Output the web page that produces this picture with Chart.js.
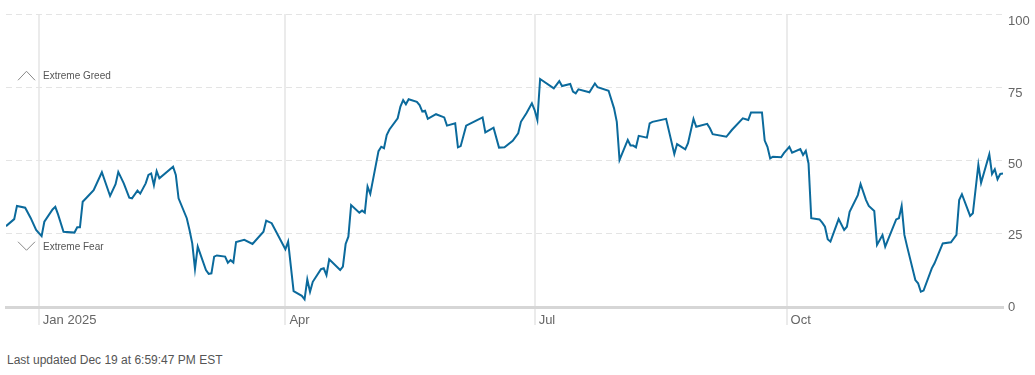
<!DOCTYPE html>
<html>
<head>
<meta charset="utf-8">
<script src="https://cdn.jsdelivr.net/npm/chart.js@4/dist/chart.umd.min.js"></script>
<style>
    body { margin: 0; background: #fff; font-family: 'Liberation Sans', Arial, sans-serif; }
    #wrap { position: relative; width: 1035px; height: 375px; }
    #updated { position: absolute; left: 7px; top: 352px; font-size: 12px; line-height: 16px; color: #555; }
</style>
</head>
<body>
<div id="wrap">
    <canvas id="fgChart" width="1035" height="335"></canvas>
    <div id="updated">Last updated Dec 19 at 6:59:47 PM EST</div>
</div>
<script>
// days counted from Jan 1 2025
const dayOffsets = [
    -12, -9, -8, -5, -3, -1, 1, 2, 5, 6,
    7, 9, 13, 14, 15, 16, 18, 20, 23, 26,
    28, 29, 31, 33, 34, 36, 37, 39, 40, 41,
    42, 43, 44, 49, 50, 51, 54, 55, 56, 57,
    58, 61, 62, 63, 64, 65, 68, 69, 70, 71,
    72, 75, 78, 82, 83, 85, 90, 91, 93, 96,
    97, 98, 99, 100, 103, 104, 105, 106, 110, 111,
    112, 113, 114, 117, 118, 119, 120, 121, 124, 125,
    126, 127, 128, 131, 132, 133, 134, 135, 138, 139,
    140, 141, 142, 145, 148, 149, 152, 153, 154, 156,
    160, 162, 163, 166, 168, 170, 173, 175, 176, 178,
    180, 181, 182, 183, 188, 190, 191, 194, 195, 196,
    197, 201, 203, 204, 208, 210, 211, 212, 215, 216,
    217, 218, 219, 222, 223, 224, 229, 232, 233, 236,
    237, 239, 240, 244, 245, 246, 251, 253, 257, 259,
    260, 264, 265, 266, 267, 268, 271, 272, 274, 275,
    278, 279, 280, 281, 282, 285, 286, 287, 288, 289,
    292, 294, 295, 296, 299, 300, 302, 303, 305, 306,
    308, 309, 313, 314, 315, 316, 317, 320, 321, 322,
    323, 326, 327, 330, 333, 335, 336, 337, 340, 341,
    343, 344, 347, 348, 349, 350, 351, 352
];
const fearGreedValues = [
    27.6, 30.0, 34.5, 33.9, 30.4, 26.3, 24.2, 29.1, 33.3, 34.2,
    31.6, 25.7, 25.4, 27.2, 27.2, 35.9, 37.9, 39.9, 46.0, 37.9,
    41.9, 46.1, 42.2, 37.3, 37.1, 39.7, 38.7, 42.2, 45.1, 45.6,
    41.6, 46.4, 43.9, 47.9, 45.1, 37.1, 30.3, 26.3, 21.7, 13.0,
    20.6, 12.6, 11.3, 11.5, 17.2, 17.6, 17.2, 15.1, 16.0, 15.2,
    22.2, 22.9, 21.5, 25.7, 29.5, 28.6, 19.7, 22.3, 5.4, 3.8,
    2.6, 9.4, 5.2, 8.6, 12.9, 13.2, 10.9, 16.3, 12.6, 13.8,
    21.5, 24.0, 34.8, 32.2, 32.9, 32.2, 41.1, 38.6, 53.2, 54.7,
    54.2, 58.7, 60.6, 64.4, 68.4, 70.6, 69.2, 70.9, 70.0, 68.9,
    66.7, 67.0, 64.2, 65.8, 64.7, 61.9, 62.7, 54.5, 54.9, 61.9,
    63.8, 64.7, 59.6, 61.2, 54.4, 54.5, 56.7, 59.3, 63.2, 66.1,
    69.5, 67.2, 63.8, 77.8, 74.6, 77.1, 75.4, 76.1, 73.5, 72.9,
    74.3, 73.3, 76.3, 75.0, 73.8, 67.8, 63.2, 50.2, 57.0, 55.1,
    55.1, 54.5, 58.4, 57.8, 62.7, 63.2, 64.2, 52.2, 55.6, 53.8,
    55.9, 64.2, 61.5, 62.5, 61.0, 59.0, 58.1, 60.4, 64.4, 63.8,
    66.4, 66.4, 56.8, 54.7, 50.7, 51.3, 51.1, 52.5, 54.7, 52.7,
    53.9, 51.9, 53.3, 49.0, 30.3, 29.9, 28.8, 27.4, 23.1, 22.3,
    30.0, 26.3, 27.4, 32.5, 38.2, 42.0, 36.5, 34.5, 32.8, 21.2,
    24.6, 20.6, 29.9, 30.3, 34.5, 24.6, 20.6, 9.2, 8.1, 5.2,
    5.6, 13.2, 14.9, 21.7, 22.1, 24.6, 36.5, 38.5, 31.1, 32.0,
    48.5, 42.4, 52.1, 45.4, 47.0, 43.6, 45.4, 45.6
];
const tickDays = [0, 90, 181, 273];
const tickLabels = ['Jan 2025', 'Apr', 'Jul', 'Oct'];
const yTicks = [0, 25, 50, 75, 100];

const FONT = "'Liberation Sans', Arial, sans-serif";

// Extreme Greed / Extreme Fear markers on the left
const zoneLabels = {
    id: 'zoneLabels',
    afterDraw(chart) {
        const ctx = chart.ctx;
        const y = chart.scales.y;
        const left = chart.chartArea.left;
        const greedY = y.getPixelForValue(75) - 11;
        const fearY = y.getPixelForValue(25) + 13;
        ctx.save();
        ctx.strokeStyle = '#888';
        ctx.lineWidth = 1;
        ctx.beginPath();
        ctx.moveTo(left + 12, greedY + 4);
        ctx.lineTo(left + 20.5, greedY - 5);
        ctx.lineTo(left + 29, greedY + 4);
        ctx.moveTo(left + 12, fearY - 5);
        ctx.lineTo(left + 20.5, fearY + 3.5);
        ctx.lineTo(left + 29, fearY - 5);
        ctx.stroke();
        ctx.fillStyle = '#555';
        ctx.font = '10px ' + FONT;
        ctx.textBaseline = 'middle';
        ctx.fillText('Extreme Greed', left + 37, greedY);
        ctx.fillText('Extreme Fear', left + 37, fearY);
        ctx.restore();
    }
};

const ctx = document.getElementById('fgChart').getContext('2d');
new Chart(ctx, {
    type: 'line',
    data: {
        datasets: [{
            data: dayOffsets.map((d, i) => ({ x: d, y: fearGreedValues[i] })),
            yAxisID: 'y',
            borderColor: '#0b6a9c',
            borderWidth: 2,
            pointRadius: 0,
            tension: 0,
            fill: false
        }]
    },
    options: {
        responsive: false,
        animation: false,
        devicePixelRatio: 1,
        layout: { padding: { left: 6, top: 14, right: 0, bottom: 0 } },
        plugins: {
            legend: { display: false },
            tooltip: { enabled: false }
        },
        scales: {
            x: {
                type: 'linear',
                min: -12,
                max: 352,
                afterBuildTicks: (scale) => { scale.ticks = tickDays.map(v => ({ value: v })); },
                afterFit: (scale) => { scale.height = 28; },
                grid: { color: '#ebebeb', lineWidth: 2, tickLength: 18, drawTicks: true },
                border: { display: true, color: '#d6d6d6', width: 3 },
                ticks: {
                    autoSkip: false,
                    maxRotation: 0,
                    align: 'start',
                    labelOffset: 4,
                    padding: -12,
                    color: '#666',
                    font: { family: FONT, size: 13 },
                    callback: (value) => tickLabels[tickDays.indexOf(value)]
                }
            },
            y: {
                position: 'right',
                min: 0,
                max: 100,
                afterBuildTicks: (scale) => { scale.ticks = yTicks.map(v => ({ value: v })); },
                afterFit: (scale) => { scale.width = 0; },
                grid: { color: '#e4e4e4', lineWidth: 1, drawTicks: false },
                border: { display: false, dash: [6, 4] },
                ticks: { display: false }
            },
            y2: {
                position: 'right',
                min: 0,
                max: 102.7,
                afterBuildTicks: (scale) => { scale.ticks = yTicks.map(v => ({ value: v })); },
                afterFit: (scale) => { scale.width = 32; },
                grid: { display: false, drawTicks: false },
                border: { display: false },
                ticks: {
                    padding: 5,
                    color: '#666',
                    font: { family: FONT, size: 13 }
                }
            }
        }
    },
    plugins: [zoneLabels]
});
</script>
</body>
</html>
